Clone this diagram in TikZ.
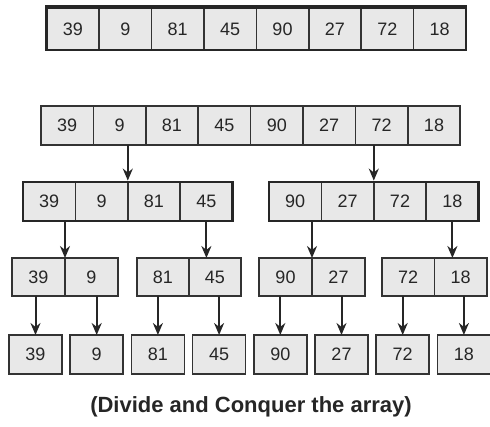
\documentclass[tikz,border=0pt]{standalone}
\usepackage{fontspec}
\setmainfont{Liberation Sans}
\usetikzlibrary{arrows.meta,positioning,fit}

\begin{document}
\begin{tikzpicture}[x=1pt, y=-1pt,
  node distance=0pt,
  cell/.style={draw=black!80, fill=black!9, line width=1.6pt, outer sep=0pt, inner sep=0pt,
    minimum width=52.4pt, minimum height=39pt, text=black!85, font=\fontsize{18}{20}\selectfont},
  frame/.style={draw=black!85, line width=2.8pt, inner sep=0pt},
  ar/.style={-{Stealth[length=12pt, width=10pt]}, line width=2pt, draw=black!85}]

\useasboundingbox (0,0) rectangle (490,426);

% whole array
\node[cell, minimum height=42pt] (a1) at (72.9,29) {39};
\node[cell, minimum height=42pt, right=of a1] (a2) {9};
\node[cell, minimum height=42pt, right=of a2] (a3) {81};
\node[cell, minimum height=42pt, right=of a3] (a4) {45};
\node[cell, minimum height=42pt, right=of a4] (a5) {90};
\node[cell, minimum height=42pt, right=of a5] (a6) {27};
\node[cell, minimum height=42pt, right=of a6] (a7) {72};
\node[cell, minimum height=42pt, right=of a7] (a8) {18};
\node[frame, fit=(a1)(a8)] (arr) {};
\draw[black!85, line width=4pt] (arr.north west) -- (arr.north east);

% divide
\node[cell] (b1) at (67.2,125.5) {39};
\node[cell, right=of b1] (b2) {9};
\node[cell, right=of b2] (b3) {81};
\node[cell, right=of b3] (b4) {45};
\node[cell, right=of b4] (b5) {90};
\node[cell, right=of b5] (b6) {27};
\node[cell, right=of b6] (b7) {72};
\node[cell, right=of b7] (b8) {18};

% halves
\node[cell] (c1) at (49.2,201.5) {39};
\node[cell, right=of c1] (c2) {9};
\node[cell, right=of c2] (c3) {81};
\node[cell, right=of c3] (c4) {45};
\node[cell] (c5) at (295.2,201.5) {90};
\node[cell, right=of c5] (c6) {27};
\node[cell, right=of c6] (c7) {72};
\node[cell, right=of c7] (c8) {18};
\node[frame, fit=(c1)(c4)] (left) {};
\node[frame, fit=(c5)(c8)] (right) {};

% quarters
\node[cell, minimum width=53pt, minimum height=38pt] (d1) at (38.5,277) {39};
\node[cell, minimum width=53pt, minimum height=38pt, right=of d1] (d2) {9};
\node[cell, minimum width=52pt, minimum height=38pt] (d3) at (163,277) {81};
\node[cell, minimum width=52pt, minimum height=38pt, right=of d3] (d4) {45};
\node[cell, minimum width=53pt, minimum height=38pt] (d5) at (285.5,277) {90};
\node[cell, minimum width=53pt, minimum height=38pt, right=of d5] (d6) {27};
\node[cell, minimum width=52.5pt, minimum height=38pt] (d7) at (408.2,277) {72};
\node[cell, minimum width=52.5pt, minimum height=38pt, right=of d7] (d8) {18};

% single elements
\node[cell, minimum width=53pt] (e1) at (35.5,354.5) {39};
\node[cell, minimum width=53pt, right=8.2pt of e1] (e2) {9};
\node[cell, minimum width=53pt, right=8.2pt of e2] (e3) {81};
\node[cell, minimum width=53pt, right=8.2pt of e3] (e4) {45};
\node[cell, minimum width=53pt, right=8.2pt of e4] (e5) {90};
\node[cell, minimum width=53pt, right=8.2pt of e5] (e6) {27};
\node[cell, minimum width=53pt, right=8.2pt of e6] (e7) {72};
\node[cell, minimum width=53pt, right=8.2pt of e7] (e8) {18};

\draw[ar] (c2.north east |- b2.south) -- (left.north -| c2.north east);
\draw[ar] (c6.north east |- b7.south) -- (right.north -| c6.north east);

\draw[ar] (d1.north east |- left.south) -- (d1.north east);
\draw[ar] (c4.south |- left.south) -- (c4.south |- d4.north);
\draw[ar] (d5.north east |- right.south) -- (d5.north east);
\draw[ar] (c8.south |- right.south) -- (c8.south |- d8.north);

\draw[ar] (e1.north |- d1.south) -- (e1.north);
\draw[ar] (e2.north |- d2.south) -- (e2.north);
\draw[ar] (e3.north |- d3.south) -- (e3.north);
\draw[ar] (e4.north |- d4.south) -- (e4.north);
\draw[ar] (e5.north |- d5.south) -- (e5.north);
\draw[ar] (e6.north |- d6.south) -- (e6.north);
\draw[ar] (e7.north |- d7.south) -- (e7.north);
\draw[ar] (e8.north |- d8.south) -- (e8.north);

\node[font=\bfseries\fontsize{22}{24}\selectfont, text=black!85] (cap) at (251,407) {(Divide and Conquer the array)};
\end{tikzpicture}
\end{document}
